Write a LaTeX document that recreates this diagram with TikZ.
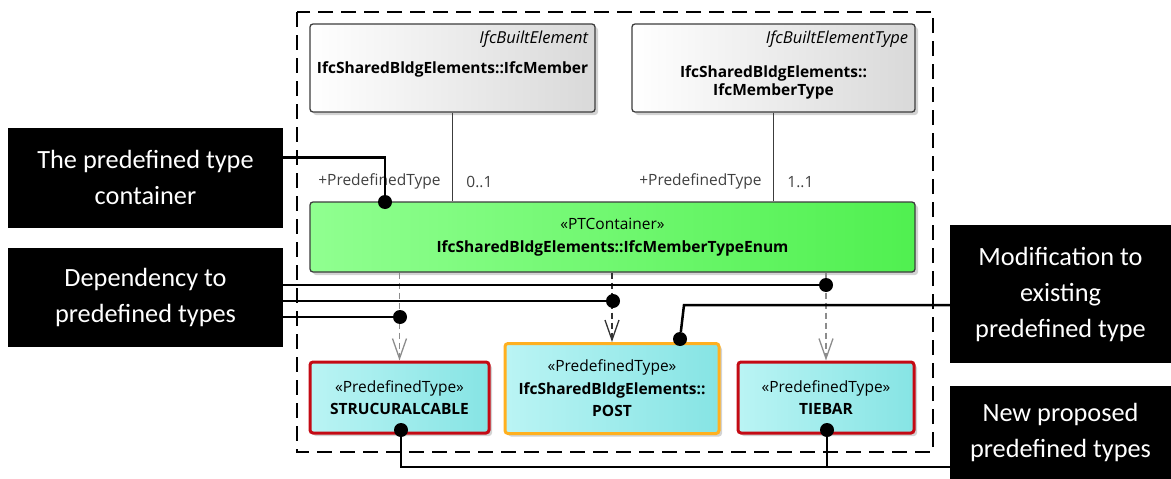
\documentclass[tikz,border=0pt]{standalone}
\usepackage{fontspec}
\setmainfont{Open Sans}
\newfontfamily\notefont{Carlito}
\usetikzlibrary{arrows.meta,shadows,positioning}

\definecolor{boxline}{HTML}{3C3C3C}
\definecolor{ptleft}{HTML}{90FF90}
\definecolor{ptright}{HTML}{50F050}
\definecolor{typeleft}{HTML}{BAF4F4}
\definecolor{typeright}{HTML}{86E4E4}
\definecolor{newred}{HTML}{C40A14}
\definecolor{modorange}{HTML}{FFB020}
\definecolor{rolegray}{HTML}{404040}

\tikzset{
  umlbox/.style={draw=boxline, line width=1.3pt, rounded corners=3pt, inner sep=0pt, align=center,
    drop shadow={shadow xshift=3pt, shadow yshift=-3pt, opacity=0.35}},
  classbox/.style={umlbox, left color=white, right color=black!15},
  ptbox/.style={umlbox, left color=ptleft, right color=ptright},
  typebox/.style={umlbox, left color=typeleft, right color=typeright, line width=3pt},
  newtype/.style={typebox, draw=newred},
  modtype/.style={typebox, draw=modorange},
  note/.style={fill=black, text=white, align=center, inner sep=0pt,
    font=\notefont\fontsize{26.3}{36}\selectfont},
  uml/.style={font=\fontsize{15.5}{22.5}\selectfont},
  umlit/.style={font=\fontsize{16.5}{22}\selectfont\itshape},
  role/.style={font=\fontsize{15.5}{22}\selectfont, text=rolegray},
  blob/.style={circle, fill=black, inner sep=0pt, minimum size=14pt},
  wire/.style={line width=2.5pt},
  dep/.style={draw=black!45, line width=1.1pt, dash pattern=on 6pt off 4pt,
    -{Straight Barb[length=20pt, width=14pt, line width=1.3pt]}},
  viewframe/.style={line width=2.2pt, dash pattern=on 15pt off 8pt},
}

\begin{document}
\begin{tikzpicture}[x=1pt, y=-1pt]
\useasboundingbox (0,0) rectangle (1171,479);
% frame round the model
\draw[viewframe] (297,12) rectangle (933,452);

% element and type classes
\node[classbox, minimum width=285pt, minimum height=88pt] (member) at (452.5,68) {};
\node[umlit, anchor=east] at ([xshift=-4pt, yshift=-16pt]member.north east) {IfcBuiltElement};
\node[uml] at ([yshift=-46pt]member.north) {\bfseries IfcSharedBldgElements::IfcMember};

\node[classbox, minimum width=283pt, minimum height=88pt] (membertype) at (773.5,68) {};
\node[umlit, anchor=east] at ([xshift=-4pt, yshift=-16pt]membertype.north east) {IfcBuiltElementType};
\node[uml, align=center, font=\bfseries\fontsize{15.5}{18}\selectfont] at ([yshift=-59pt]membertype.north)
  {IfcSharedBldgElements::\\IfcMemberType};

% container
\node[ptbox, uml, minimum width=605pt, minimum height=70pt] (container) at (612.5,237)
  {«PTContainer»\\\textbf{IfcSharedBldgElements::IfcMemberTypeEnum}};

% associations
\draw[boxline, line width=1.2pt] (member.south) -- (member.south |- container.north)
  node[role, pos=0.78, left=8pt] {+PredefinedType}
  node[role, pos=0.78, right=10pt] {0..1};
\draw[boxline, line width=1.2pt] (membertype.south) -- (membertype.south |- container.north)
  node[role, pos=0.78, left=8pt] {+PredefinedType}
  node[role, pos=0.78, right=10pt] {1..1};

% predefined types
\node[newtype, uml, minimum width=179pt, minimum height=71pt] (cable) at (399.5,397.5)
  {«PredefinedType»\\\textbf{STRUCURALCABLE}};
\node[modtype, uml, minimum width=214pt, minimum height=90pt] (post) at (612,388.5)
  {«PredefinedType»\\\textbf{IfcSharedBldgElements::}\\\textbf{POST}};
\node[newtype, uml, minimum width=176pt, minimum height=71pt] (tiebar) at (826,397.5)
  {«PredefinedType»\\\textbf{TIEBAR}};

% dependencies
\draw[dep] (cable.north |- container.south) -- (cable.north);
\draw[dep, draw=black!80] (post.north |- container.south) -- (post.north);
\draw[dep] (tiebar.north |- container.south) -- (tiebar.north);

% callouts
\node[note, minimum width=275pt, minimum height=100pt] (ctrnote) at (145.5,177.5) {The predefined type\\container};
\node[note, minimum width=275pt, minimum height=99pt] (depnote) at (145.5,297.5) {Dependency to\\predefined types};
\node[note, minimum width=221pt, minimum height=138pt] (modnote) at (1060.5,294) {Modification to\\existing\\predefined type};
\node[note, minimum width=221pt, minimum height=93pt] (newnote) at (1060.5,432.5) {New proposed\\predefined types};

% pointer dots
\node[blob] (ctrdot) at (385,202) {};
\node[blob] (depdota) at (826,285) {};
\node[blob] (depdotb) at (613,301) {};
\node[blob] (depdotc) at (400,317) {};
\node[blob] (moddot) at (680,339) {};
\coordinate (modbend) at (684,305);
\node[blob] (newdota) at (401,430) {};
\node[blob] (newdotb) at (827,430) {};

% pointer lines
\draw[wire] ([yshift=20pt]ctrnote.east) -| (ctrdot);
\draw[wire] ([yshift=12.5pt]depnote.east) -- (depdota);
\draw[wire] ([yshift=-3.5pt]depnote.east) -- (depdotb);
\draw[wire] ([yshift=-19.5pt]depnote.east) -- (depdotc);
\draw[wire] ([yshift=-11pt]modnote.west) -- (modbend) -- (moddot);
\draw[wire] ([yshift=-34.5pt]newnote.west) -| (newdota);
\draw[wire] (newdotb) -- ([yshift=-34.5pt]newnote.west -| newdotb);
\end{tikzpicture}
\end{document}
